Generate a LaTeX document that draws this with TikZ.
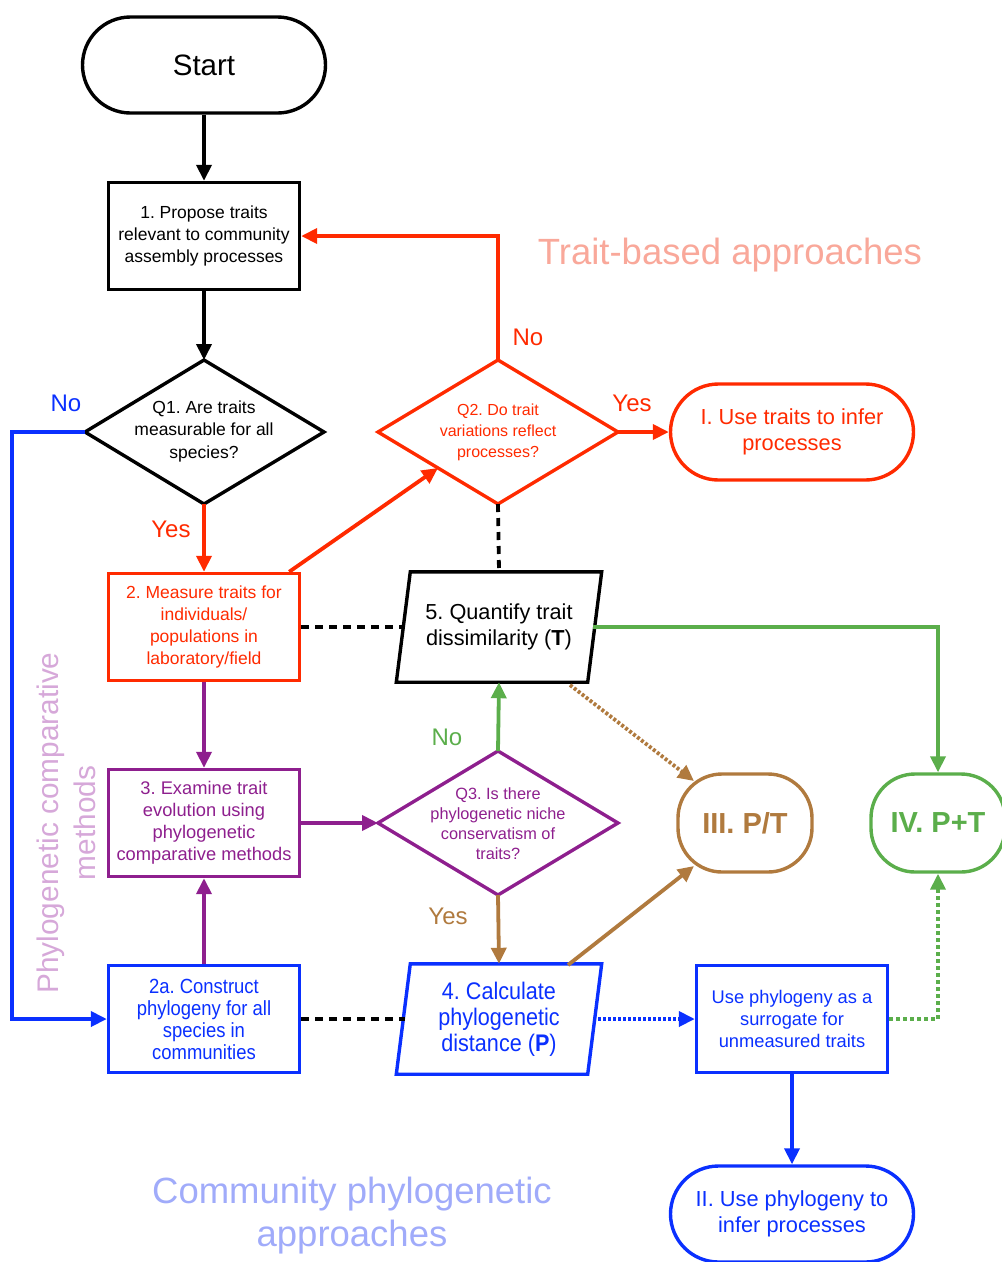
\documentclass[tikz,border=0pt]{standalone}
\usepackage{fontspec}
\setmainfont{Liberation Sans}
\newfontfamily\condfont[FakeStretch=0.9]{Liberation Sans}
\usetikzlibrary{arrows.meta,calc}
\definecolor{cred}{HTML}{FF2A00}
\definecolor{cblue}{HTML}{0A30FF}
\definecolor{cpurple}{HTML}{8E1F8E}
\definecolor{cbrown}{HTML}{B07A3E}
\definecolor{cgreen}{HTML}{5BAE4B}
\definecolor{cpink}{HTML}{F9A89A}
\definecolor{clblue}{HTML}{A0ABFA}
\definecolor{clpurple}{HTML}{D6A8D9}
\begin{document}
\frenchspacing
\begin{tikzpicture}[x=1pt,y=-1pt,line width=3.4pt,
  box/.style={draw,rectangle,minimum width=191,minimum height=107,align=center,inner sep=0,font=\fontsize{17.5}{22}\selectfont},
  term/.style={draw,rounded corners=48,minimum width=243,minimum height=96,align=center,inner sep=0,font=\fontsize{21.8}{26}\selectfont},
  small/.style={draw,rounded corners=44,minimum width=134,minimum height=98,align=center,inner sep=0,font=\fontsize{29}{32}\selectfont\bfseries},
  plain/.style={rectangle,minimum width=202,minimum height=107,align=center,inner sep=0,font=\fontsize{21.7}{26}\selectfont},
  qtext/.style={align=center,inner sep=0},
  lbl/.style={inner sep=0,font=\fontsize{24}{26}\selectfont},
  big/.style={inner sep=0,align=center,font=\fontsize{36.5}{43}\selectfont},
  conn/.style={line width=3.8pt},
  arr/.style={conn,-{Triangle[length=16pt,width=15pt]}},
  blackdash/.style={conn,dash pattern=on 8pt off 6pt},
  dots/.style={dash pattern=on 3pt off 2pt},
  gdots/.style={dash pattern=on 4pt off 3pt},
]
\useasboundingbox (0,0) rectangle (1002,1262);

% titles
\node[big,text=cpink] (tba) at (730,255) {Trait-based approaches};
\node[big,text=clblue] (cpa) at (352,1216) {Community phylogenetic\\approaches};
\node[inner sep=0,align=center,rotate=90,text=clpurple,font=\fontsize{29.8}{37}\selectfont] (pcm) at (66,823) {Phylogenetic comparative\\methods};

% nodes
\node[term,font=\fontsize{29.5}{34}\selectfont] (start) at (204,65) {Start};
\node[box] (b1) at (204,236) {1. Propose traits\\relevant to community\\assembly processes};

% Q1 diamond
\coordinate (q1n) at (204,360); \coordinate (q1s) at (204,504);
\coordinate (q1w) at (85,432); \coordinate (q1e) at (324,432);
\draw[line join=miter] (q1n) -- (q1e) -- (q1s) -- (q1w) -- cycle;
\node[qtext,font=\fontsize{17.5}{22.5}\selectfont] (q1) at (204,431) {Q1. Are traits\\measurable for all\\species?};

% Q2 diamond
\coordinate (q2n) at (498,360); \coordinate (q2s) at (498,504);
\coordinate (q2w) at (378,432); \coordinate (q2e) at (618,432);
\draw[cred,line join=miter] (q2n) -- (q2e) -- (q2s) -- (q2w) -- cycle;
\node[qtext,text=cred,font=\fontsize{16}{21}\selectfont] (q2) at (498,432) {Q2. Do trait\\variations reflect\\processes?};

\node[term,cred] (t1) at (792,432) {I. Use traits to infer\\processes};

\node[box,cred] (b2) at (204,627) {2. Measure traits for\\individuals/\\populations in\\laboratory/field};

% 5 parallelogram
\node[plain] (five) at (499,627) {5. Quantify trait\\dissimilarity (\textbf{T})};
\draw[line join=miter] ($(five.north west)+(14,0)$) -- (five.north east) -- ($(five.south east)+(-14,0)$) -- (five.south west) -- cycle;
\coordinate (fivew) at (405,627); \coordinate (fivee) at (593,627);

\node[box,cpurple,font=\fontsize{18.3}{22}\selectfont] (b3) at (204,823) {3. Examine trait\\evolution using\\phylogenetic\\comparative methods};

% Q3 diamond
\coordinate (q3n) at (498,751); \coordinate (q3s) at (498,895);
\coordinate (q3w) at (378,823); \coordinate (q3e) at (618,823);
\draw[cpurple,line join=miter] (q3n) -- (q3e) -- (q3s) -- (q3w) -- cycle;
\node[qtext,text=cpurple,font=\fontsize{16.3}{20}\selectfont] (q3) at (498,824) {Q3. Is there\\phylogenetic niche\\conservatism of\\traits?};

\node[small,cbrown] (iii) at (745,823) {III. P/T};
\node[small,cgreen] (iv) at (938,823) {IV. P+T};

\node[box,cblue,font=\condfont\fontsize{20.5}{22}\selectfont] (b2a) at (204,1019) {2a. Construct\\phylogeny for all\\species in\\communities};

% 4 parallelogram
\node[plain,text=cblue,font=\condfont\fontsize{24}{26}\selectfont] (four) at (499,1019) {4. Calculate\\phylogenetic\\distance (\textbf{P})};
\draw[cblue,line join=miter] ($(four.north west)+(14,0)$) -- (four.north east) -- ($(four.south east)+(-14,0)$) -- (four.south west) -- cycle;
\coordinate (fourw) at (405,1019); \coordinate (foure) at (593,1019);

\node[box,cblue,font=\fontsize{18.3}{22}\selectfont] (use) at (792,1019) {Use phylogeny as a\\surrogate for\\unmeasured traits};
\node[term,cblue] (t2) at (792,1214) {II. Use phylogeny to\\infer processes};

% connectors
\draw[arr] (start) -- (b1);
\draw[arr] (b1) -- (q1n);
\draw[arr,cred] (q1s) -- (b2);
\draw[arr,cblue] (q1w) -- ++(-73,0) coordinate (lft) |- (b2a.west);
\draw[arr,cred] ($(b2.north east)+(-12,0)$) coordinate (b2ne) -- ($(q2w)!0.5!(q2s)$) coordinate (q2sw);
\draw[arr,cred] (q2n) |- (b1.east);
\draw[arr,cred] (q2e) -- (t1.west);
\draw[blackdash] (q2s) -- (five.north);
\draw[blackdash] (b2.east) -- (fivew);
\draw[arr,cgreen] (fivee) -| (iv.north);
\coordinate (fivese) at (570,685);
\coordinate (iiinw) at (694,781);
\draw[arr,cbrown,dots] (fivese) -- (iiinw);
\draw[arr,cpurple] (b2.south) -- (b3.north);
\draw[arr,cpurple] (b2a.north) -- (b3.south);
\draw[arr,cpurple] (b3.east) -- (q3w);
\draw[arr,cgreen] (q3n) -- (five.south);
\draw[arr,cbrown] (q3s) -- (four.north);
\coordinate (fourne) at (568,965);
\coordinate (iiisw) at (694,866);
\draw[arr,cbrown] (fourne) -- (iiisw);
\draw[blackdash] (b2a.east) -- (fourw);
\draw[arr,cblue,dots] (foure) -- (use.west);
\draw[arr,cgreen,gdots] (use.east) -| (iv.south);
\draw[arr,cblue] (use.south) -- (t2.north);

% labels
\node[lbl,text=cblue] (lno1) at (66,403) {No};
\node[lbl,text=cred] (lyes1) at (171,529) {Yes};
\node[lbl,text=cred] (lno2) at (528,337) {No};
\node[lbl,text=cred] (lyes2) at (632,403) {Yes};
\node[lbl,text=cgreen] (lno3) at (447,737) {No};
\node[lbl,text=cbrown] (lyes3) at (448,916) {Yes};
\end{tikzpicture}
\end{document}
